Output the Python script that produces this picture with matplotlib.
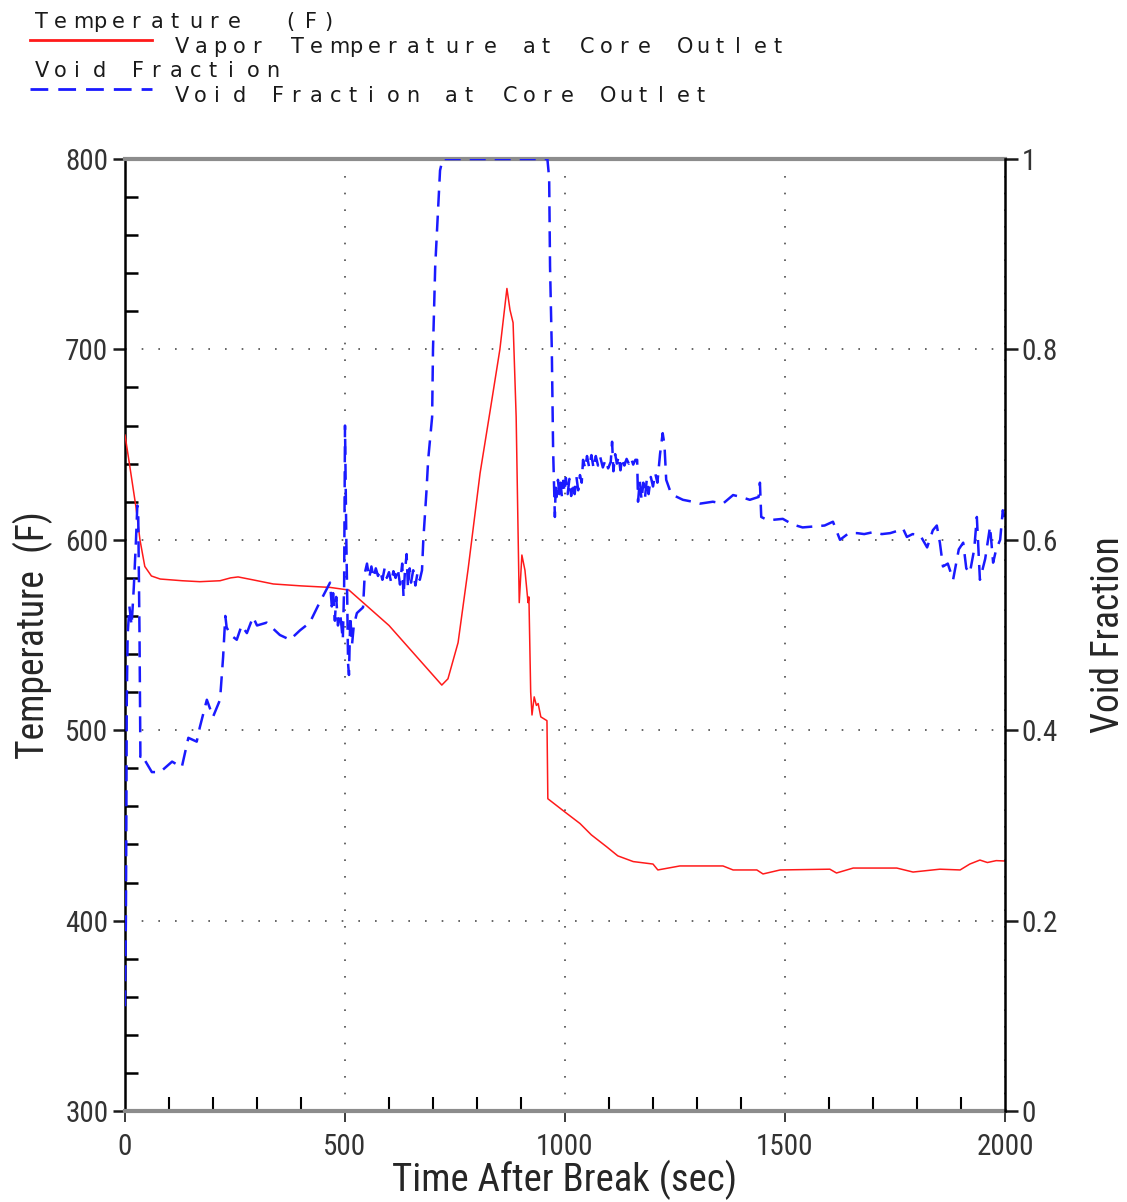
import matplotlib
matplotlib.use("Agg")
import matplotlib.pyplot as plt
from matplotlib.lines import Line2D
from matplotlib.ticker import MultipleLocator

plt.rcParams['font.family'] = ['Roboto Condensed', 'DejaVu Sans Condensed',
                               'Liberation Sans Narrow', 'DejaVu Sans']
plt.rcParams['font.stretch'] = 'condensed'

# vapor temperature at core outlet (F)
temp_t = [0, 10, 25, 34, 45, 60, 80, 130, 170, 216, 240, 257, 290, 337, 400, 466, 509,
          600, 720, 734, 757, 780, 807, 830, 852, 868, 875, 882, 889, 896, 902, 909, 916,
          918, 922, 925, 930, 935, 939, 945, 959, 961, 1000, 1034, 1060, 1095, 1120, 1155,
          1200, 1211, 1261, 1359, 1382, 1436, 1450, 1489, 1602, 1617, 1655, 1754, 1791,
          1852, 1898, 1920, 1943, 1960, 1980, 2000]
temp_f = [655, 640, 617, 600, 586, 581, 579.4, 578.5, 578, 578.5, 580, 580.5, 579, 576.8,
          575.8, 575, 573.6, 555, 523.7, 527, 546, 585, 635, 668, 700, 732, 720.7, 714,
          664.5, 567, 592, 584, 567, 570, 520, 508, 517.5, 513, 514, 507, 505, 464, 457,
          451, 445, 438.7, 434, 431, 429.7, 426.6, 428.7, 428.7, 426.6, 426.6, 424.5,
          426.6, 427, 425, 427.6, 427.6, 425.5, 427, 426.6, 429.7, 431.8, 430.5, 431.5,
          431.3]

# void fraction at core outlet
void_t = [0, 2, 3, 4, 6, 10, 15, 20, 25, 28, 30, 33, 35, 38, 61, 80, 107, 129, 144, 163,
          170, 186, 200, 216, 223, 228, 231, 240, 254, 265, 277, 291, 300, 322, 352, 375,
          398, 420, 439, 466, 470, 473, 477, 480, 484, 489, 495, 498, 500, 503, 505, 507,
          509, 512, 516, 520, 527, 541, 545, 550, 555, 560, 565, 570, 575, 580, 585, 590,
          595, 600, 605, 610, 615, 620, 625, 630, 633, 636, 640, 643, 647, 650, 655, 660,
          665, 670, 675, 678, 682, 685, 689, 698, 700, 705, 716, 722, 960, 964, 966, 970,
          973, 977, 979, 981, 984, 987, 990, 993, 996, 999, 1002, 1006, 1010, 1014, 1018,
          1022, 1026, 1030, 1034, 1038, 1041, 1046, 1050, 1055, 1060, 1065, 1070, 1075,
          1080, 1086, 1092, 1098, 1104, 1107, 1110, 1114, 1118, 1122, 1126, 1130, 1135,
          1140, 1145, 1150, 1155, 1160, 1164, 1166, 1170, 1174, 1178, 1182, 1186, 1190,
          1195, 1200, 1205, 1210, 1216, 1222, 1226, 1230, 1240, 1250, 1268, 1290, 1307,
          1336, 1359, 1382, 1400, 1420, 1440, 1443, 1446, 1459, 1473, 1495, 1518, 1540,
          1564, 1590, 1609, 1625, 1645, 1664, 1680, 1700, 1720, 1739, 1760, 1768, 1777,
          1790, 1807, 1823, 1836, 1845, 1852, 1859, 1870, 1882, 1895, 1905, 1912, 1920,
          1930, 1936, 1943, 1955, 1966, 1973, 1980, 1989, 1995, 2000]
void_v = [0.11, 0.2, 0.3, 0.43, 0.5, 0.53, 0.51, 0.55, 0.6, 0.636, 0.63, 0.5, 0.372,
          0.374, 0.356, 0.356, 0.367, 0.361, 0.392, 0.388, 0.403, 0.432, 0.414, 0.432,
          0.477, 0.52, 0.508, 0.50, 0.495, 0.51, 0.502, 0.519, 0.51, 0.513, 0.50, 0.495,
          0.505, 0.513, 0.531, 0.555, 0.53, 0.544, 0.515, 0.54, 0.51, 0.523, 0.495, 0.55,
          0.72, 0.60, 0.54, 0.47, 0.458, 0.52, 0.49, 0.51, 0.523, 0.529, 0.565, 0.575,
          0.56, 0.572, 0.56, 0.57, 0.562, 0.568, 0.558, 0.57, 0.56, 0.566, 0.555, 0.567,
          0.56, 0.57, 0.553, 0.575, 0.54, 0.565, 0.585, 0.55, 0.57, 0.555, 0.568, 0.552,
          0.566, 0.558, 0.568, 0.60, 0.628, 0.65, 0.684, 0.729, 0.80, 0.887, 0.988, 1.0,
          1.0, 0.98, 0.887, 0.80, 0.694, 0.624, 0.66, 0.645, 0.663, 0.648, 0.66, 0.645,
          0.662, 0.65, 0.665, 0.648, 0.664, 0.646, 0.66, 0.648, 0.666, 0.652, 0.668, 0.66,
          0.684, 0.675, 0.688, 0.676, 0.689, 0.675, 0.688, 0.678, 0.687, 0.676, 0.684,
          0.675, 0.682, 0.703, 0.672, 0.69, 0.68, 0.688, 0.673, 0.686, 0.678, 0.685, 0.68,
          0.686, 0.679, 0.684, 0.684, 0.64, 0.662, 0.642, 0.66, 0.645, 0.664, 0.648, 0.666,
          0.656, 0.67, 0.66, 0.69, 0.712, 0.70, 0.663, 0.65, 0.646, 0.642, 0.64, 0.638,
          0.64, 0.638, 0.647, 0.645, 0.642, 0.645, 0.66, 0.624, 0.621, 0.621, 0.622, 0.616,
          0.613, 0.614, 0.615, 0.619, 0.60, 0.607, 0.607, 0.606, 0.608, 0.606, 0.607, 0.61,
          0.612, 0.603, 0.606, 0.605, 0.592, 0.61, 0.615, 0.597, 0.572, 0.575, 0.558, 0.59,
          0.597, 0.57, 0.565, 0.59, 0.624, 0.558, 0.58, 0.614, 0.576, 0.59, 0.60, 0.631,
          0.62]

void_ticks = [0, 0.2, 0.4, 0.6, 0.8, 1]
void_labels = ['0', '0.2', '0.4', '0.6', '0.8', '1']

W, H = 1127, 1202
fig = plt.figure(figsize=(W / 100, H / 100), dpi=100)
ax = fig.add_axes([125 / W, 1 - 1111 / H, 880 / W, 952 / H])
ax2 = ax.twinx()

ax.plot(temp_t, temp_f, color='#ff1a1a', lw=1.1, zorder=3)
ax2.plot(void_t, void_v, color='#1a1aff', lw=1.8, dashes=(6.4, 3.6))

ax.set_xlim(0, 2000)
ax.set_ylim(300, 800)
ax2.set_ylim(0, 1)

ax.xaxis.set_major_locator(MultipleLocator(500))
ax.xaxis.set_minor_locator(MultipleLocator(100))
ax.yaxis.set_major_locator(MultipleLocator(100))
ax.yaxis.set_minor_locator(MultipleLocator(20))
ax2.set_yticks(void_ticks, void_labels)

ax.grid(True, which='major', linestyle=(0, (1, 9)), color='0.3', lw=1.2)

for sp in ['top', 'bottom']:
    ax.spines[sp].set_color('0.55')
    ax.spines[sp].set_linewidth(3)
ax.spines['left'].set_linewidth(1.8)
ax.spines['right'].set_visible(False)
for sp in ['top', 'bottom', 'left']:
    ax2.spines[sp].set_visible(False)
ax2.spines['right'].set_linewidth(1.8)

lab = dict(labelsize=21, labelcolor='0.2', colors='0.1')
ax.tick_params(axis='y', which='major', direction='out', length=9, width=1.8, pad=3, **lab)
ax.tick_params(axis='y', which='minor', direction='in', length=9, width=1.8)
ax.tick_params(axis='x', which='major', direction='out', length=8, width=1.2, pad=8, **lab)
ax.tick_params(axis='x', which='minor', direction='in', length=10, width=1.5)
ax2.tick_params(axis='y', which='major', direction='out', length=9, width=1.8, pad=3, **lab)

ax.set_xlabel('Time After Break (sec)', fontsize=28, color='0.15', labelpad=-1)
ax.set_ylabel('Temperature  (F)', fontsize=27, color='0.15')
ax.yaxis.set_label_coords(-72 / 880, 0.5)
ax2.set_ylabel('Void Fraction', fontsize=27, color='0.15')
ax2.yaxis.set_label_coords(965 / 880, 0.5)


def spaced(x, y, s, pitch=19.3, size=15):
    # draw header text one glyph at a time on a fixed pitch
    for i, ch in enumerate(s):
        if ch != ' ':
            fig.text((x + i * pitch) / W, 1 - y / H, ch, fontsize=size,
                     family='DejaVu Sans', stretch='normal', color='0.1',
                     va='baseline', ha='left')


spaced(35, 28, 'Temperature  (F)')
spaced(175, 53, 'Vapor Temperature at Core Outlet')
spaced(35, 77, 'Void Fraction')
spaced(175, 102, 'Void Fraction at Core Outlet')
fig.add_artist(Line2D([30 / W, 152 / W], [1 - 40 / H, 1 - 40 / H], color='#ff1a1a', lw=2,
                      transform=fig.transFigure))
fig.add_artist(Line2D([30 / W, 152 / W], [1 - 89 / H, 1 - 89 / H], color='#1a1aff', lw=2,
                      dashes=(6.4, 3.6), transform=fig.transFigure))

fig.savefig('out.png', dpi=100)
